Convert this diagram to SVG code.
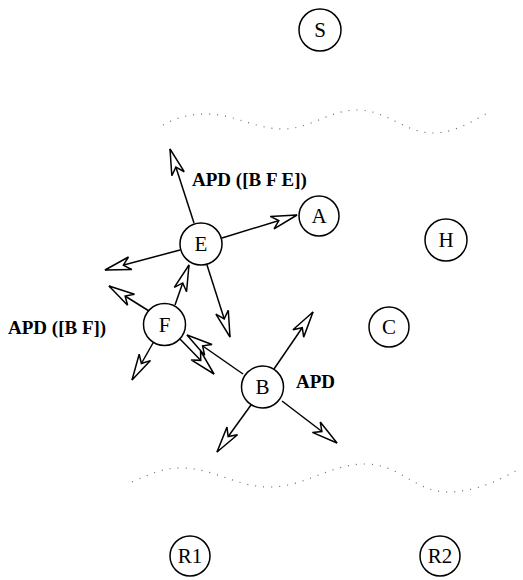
<svg xmlns="http://www.w3.org/2000/svg" width="523" height="580" viewBox="0 0 523 580">
<style>
.n circle{fill:#fff;stroke:#000;stroke-width:1.5}
.n text{font-family:"Liberation Serif",serif;font-size:21px;text-anchor:middle;fill:#000}
.lbl{font-family:"Liberation Serif",serif;font-size:19px;font-weight:bold;fill:#000}
.e line{stroke:#000;stroke-width:1.5;marker-end:url(#ah)}
.w{fill:none;stroke:#666;stroke-width:1.2;stroke-dasharray:1 7}
</style>
<defs>
<marker id="ah" markerUnits="userSpaceOnUse" viewBox="-28 -8 30 16" refX="0" refY="0" markerWidth="30" markerHeight="16" orient="auto" overflow="visible">
<path d="M0,0 L-26,-6.5 L-19,0 L-26,6.5 Z" fill="#fff" stroke="#000" stroke-width="1.5" stroke-linejoin="miter"/>
</marker>
</defs>
<path class="w" d="M163,125 C175,118 190,114 205,114 C235,114 255,129 283,129 C310,129 330,110 357,110 C387,110 405,133 433,133 C455,133 475,120 489,112"/>
<path class="w" d="M132,482 C150,474 163,468 180,468 C215,468 235,487 270,487 C305,487 330,464 365,464 C400,464 415,492 448,492 C475,492 500,480 519,469"/>
<g id="edges" class="e">
<line x1="194" y1="223" x2="170" y2="149"/>
<line x1="222" y1="238" x2="297" y2="215"/>
<line x1="180" y1="250" x2="105" y2="270"/>
<line x1="207" y1="265" x2="230" y2="337"/>
<line x1="175" y1="305" x2="189" y2="265"/>
<line x1="149" y1="311" x2="109" y2="286"/>
<line x1="153" y1="343" x2="132" y2="380"/>
<line x1="180" y1="339" x2="214" y2="374"/>
<line x1="243" y1="374" x2="187" y2="335"/>
<line x1="274" y1="369" x2="313" y2="312"/>
<line x1="251" y1="405" x2="217" y2="452"/>
<line x1="282" y1="401" x2="337" y2="443"/>
</g>
<g id="S" class="n"><circle cx="320" cy="30" r="21"/><text x="320" y="37">S</text></g>
<g id="A" class="n"><circle cx="319" cy="216" r="20"/><text x="319" y="223">A</text></g>
<g id="E" class="n"><circle cx="201" cy="244" r="21"/><text x="201" y="251">E</text></g>
<g id="H" class="n"><circle cx="446" cy="240" r="21"/><text x="446" y="247">H</text></g>
<g id="F" class="n"><circle cx="164.5" cy="324.5" r="21"/><text x="164.5" y="331.5">F</text></g>
<g id="C" class="n"><circle cx="389" cy="327" r="20"/><text x="389" y="334">C</text></g>
<g id="B" class="n"><circle cx="262.5" cy="387" r="21"/><text x="262.5" y="394">B</text></g>
<g id="R1" class="n"><circle cx="190" cy="556" r="20"/><text x="190" y="563">R1</text></g>
<g id="R2" class="n"><circle cx="440" cy="556" r="20"/><text x="440" y="563">R2</text></g>
<text class="lbl" x="192" y="186">APD ([B F E])</text>
<text class="lbl" x="8" y="334">APD ([B F])</text>
<text class="lbl" x="296" y="388">APD</text>
</svg>
